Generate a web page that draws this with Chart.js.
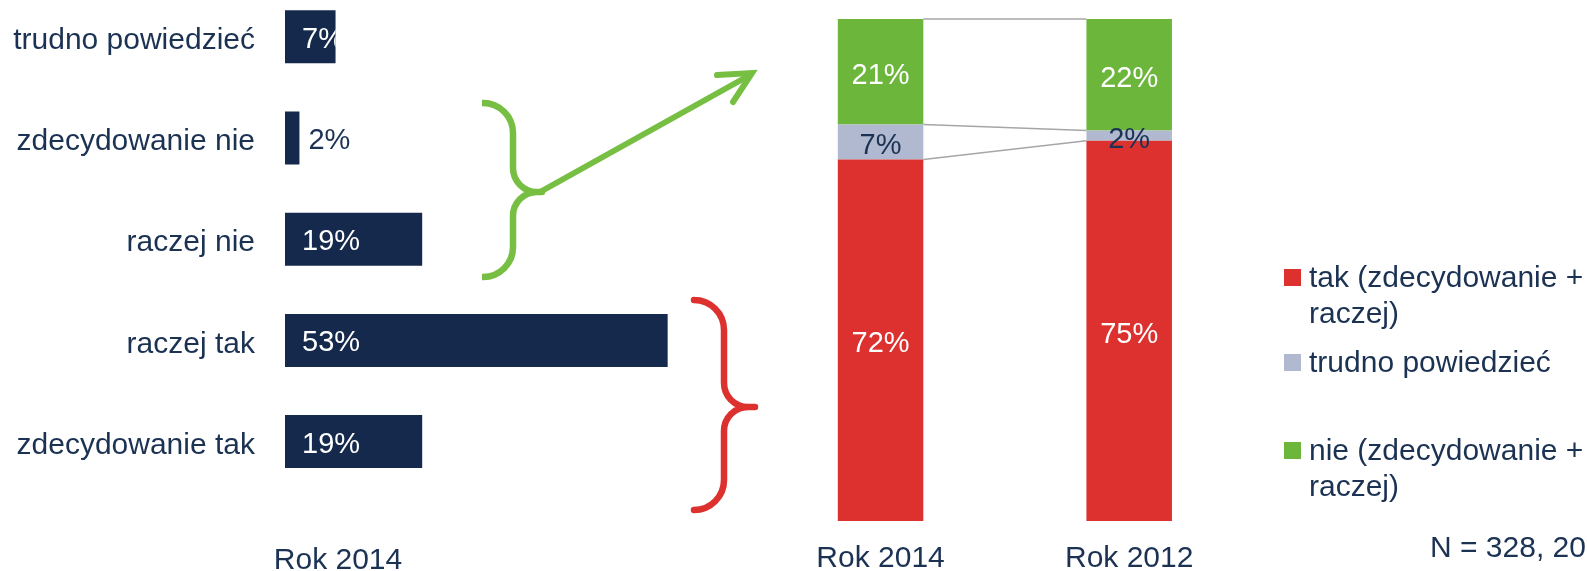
<!DOCTYPE html>
<html><head><meta charset="utf-8">
<script src="https://cdn.jsdelivr.net/npm/chart.js@4.4.1/dist/chart.umd.min.js"></script>
<style>
html,body{margin:0;padding:0;background:#fff;overflow:hidden;width:1587px;height:571px;position:relative;}
#wrapL{position:absolute;left:0;top:-20px;width:780px;height:591px;}
#wrapR{position:absolute;left:600px;top:0;width:987px;height:571px;}
canvas{display:block;}
</style></head><body>
<div id="wrapL"><canvas id="cL" width="780" height="591"></canvas></div>
<div id="wrapR"><canvas id="cR" width="987" height="571"></canvas></div>
<script>
// ---- data ----
const answerCategories = ['trudno powiedzieć', 'zdecydowanie nie', 'raczej nie', 'raczej tak', 'zdecydowanie tak'];
const answers2014 = [7, 2, 19, 53, 19];
const leftTitle = 'Rok 2014';
const years = ['Rok 2014', 'Rok 2012'];
const seriesNames = [['tak (zdecydowanie +', 'raczej)'], ['trudno powiedzieć'], ['nie (zdecydowanie +', 'raczej)']];
const tak = [72, 75];
const trudno = [7, 2];
const nie = [21, 22];
const sampleNote = 'N = 328, 20';

// ---- style ----
const FONT = "'Liberation Sans', Arial, sans-serif";
const NAVY = '#14294b', TEXT = '#1b3253', RED = '#dc312e', GRAY = '#b0b9cf', GREEN = '#6cb63c', GREEN_LINE = '#77bf43';
Chart.defaults.font.family = FONT;
Chart.defaults.color = TEXT;
Chart.defaults.animation = false;

// ---- left chart ----
const leftPlugin = {
  id: 'leftDeco',
  afterDatasetsDraw(chart) {
    const ctx = chart.ctx;
    const meta = chart.getDatasetMeta(0);
    ctx.save();
    ctx.font = '29px ' + FONT;
    ctx.textBaseline = 'middle';
    ctx.textAlign = 'left';
    meta.data.forEach((bar, i) => {
      const txt = answers2014[i] + '%';
      const left = bar.base, right = bar.x, h = bar.height, top = bar.y - h / 2;
      if (right - left < 30) {
        ctx.fillStyle = TEXT;
        ctx.fillText(txt, right + 9, bar.y + 3);
      } else {
        ctx.save();
        ctx.beginPath(); ctx.rect(left, top, right - left, h); ctx.clip();
        ctx.fillStyle = '#fff';
        ctx.fillText(txt, left + 17, bar.y + 3);
        ctx.restore();
      }
    });
    // page coordinates from here (canvas is shifted up by 20px)
    ctx.translate(0, 20);
    ctx.fillStyle = TEXT;
    ctx.font = '30px ' + FONT;
    ctx.textAlign = 'center';
    ctx.textBaseline = 'alphabetic';
    ctx.fillText(leftTitle, 338, 569);

    function brace(color, x0, xv, xp, y0, ym, y1, r, r2) {
      ctx.beginPath();
      ctx.strokeStyle = color;
      ctx.lineWidth = 6.5;
      ctx.lineCap = 'butt';
      ctx.lineJoin = 'round';
      ctx.moveTo(x0, y0);
      ctx.arcTo(xv, y0, xv, y0 + r, r);
      ctx.arcTo(xv, ym, xp, ym, r2);
      ctx.lineTo(xp, ym);
      ctx.arcTo(xv, ym, xv, y1, r2);
      ctx.arcTo(xv, y1, x0, y1, r);
      ctx.lineTo(x0, y1);
      ctx.stroke();
    }
    brace(GREEN_LINE, 482, 513, 542, 103, 192, 277, 30, 24);
    brace(RED, 695, 724, 755, 300, 407, 510, 30, 24);

    // arrow
    ctx.beginPath();
    ctx.strokeStyle = GREEN_LINE;
    ctx.lineWidth = 6;
    ctx.lineCap = 'round';
    ctx.moveTo(540, 192);
    ctx.lineTo(750, 75);
    ctx.stroke();
    ctx.beginPath();
    ctx.lineJoin = 'miter';
    ctx.moveTo(717, 75);
    ctx.lineTo(752, 73);
    ctx.lineTo(733, 102);
    ctx.stroke();
    ctx.restore();
  }
};

new Chart(document.getElementById('cL'), {
  type: 'bar',
  data: {
    labels: answerCategories,
    datasets: [{ data: answers2014, backgroundColor: NAVY, barPercentage: 0.524, categoryPercentage: 1 }]
  },
  options: {
    responsive: false,
    indexAxis: 'y',
    layout: { padding: { left: 0, right: 61.8, top: 6.2, bottom: 78.8 } },
    plugins: { legend: { display: false }, tooltip: { enabled: false } },
    scales: {
      x: { display: false, min: 0, max: 60 },
      y: {
        grid: { display: false, drawTicks: false },
        border: { display: false },
        ticks: { font: { size: 30 }, color: TEXT, padding: 30, labelOffset: 4 },
        afterFit(s) { s.width = 285; s.paddingTop = 0; s.paddingBottom = 0; }
      }
    }
  },
  plugins: [leftPlugin]
});

// ---- right chart ----
const totals = tak.map((v, i) => v + trudno[i] + nie[i]);
const share = arr => arr.map((v, i) => v / totals[i] * 100);
const rawSeries = [tak, trudno, nie];
const labelColors = ['#fff', TEXT, '#fff'];
const segColors = [RED, GRAY, GREEN];

const rightPlugin = {
  id: 'rightDeco',
  beforeDatasetsDraw(chart) {
    const ctx = chart.ctx;
    ctx.save();
    ctx.strokeStyle = '#a6a6a6';
    ctx.lineWidth = 1.5;
    chart.data.datasets.forEach((ds, k) => {
      const m = chart.getDatasetMeta(k).data;
      const a = m[0], b = m[1];
      ctx.beginPath();
      ctx.moveTo(a.x + a.width / 2, a.y);
      ctx.lineTo(b.x - b.width / 2, b.y);
      ctx.stroke();
    });
    ctx.restore();
  },
  afterDatasetsDraw(chart) {
    const ctx = chart.ctx;
    ctx.save();
    ctx.font = '29px ' + FONT;
    ctx.textAlign = 'center';
    ctx.textBaseline = 'middle';
    chart.data.datasets.forEach((ds, k) => {
      chart.getDatasetMeta(k).data.forEach((el, i) => {
        const c = el.getCenterPoint();
        ctx.fillStyle = labelColors[k];
        ctx.fillText(rawSeries[k][i] + '%', c.x, c.y + 4);
      });
    });
    // legend (page coords)
    ctx.translate(-600, 0);
    const firstBaselines = [287, 372, 460];
    ctx.font = '30px ' + FONT;
    ctx.textAlign = 'left';
    ctx.textBaseline = 'alphabetic';
    seriesNames.forEach((lines, k) => {
      const bl = firstBaselines[k];
      ctx.fillStyle = segColors[k];
      ctx.fillRect(1284, bl - 18, 17, 17);
      ctx.fillStyle = TEXT;
      lines.forEach((t, j) => ctx.fillText(t, 1309, bl + j * 36));
    });
    ctx.fillText(sampleNote, 1430, 557);
    ctx.restore();
  }
};

new Chart(document.getElementById('cR'), {
  type: 'bar',
  data: {
    labels: years,
    datasets: seriesNames.map((n, k) => ({
      label: n.join(' '),
      data: share(rawSeries[k]),
      backgroundColor: segColors[k],
      barPercentage: 0.344,
      categoryPercentage: 1
    }))
  },
  options: {
    responsive: false,
    layout: { padding: { left: 156.25, right: 333.5, top: 19, bottom: 0 } },
    plugins: { legend: { display: false }, tooltip: { enabled: false } },
    scales: {
      x: {
        stacked: true,
        grid: { display: false, drawTicks: false },
        border: { display: false },
        ticks: { font: { size: 30 }, color: TEXT, padding: 20 },
        afterFit(s) { s.height = 50; s.paddingLeft = 0; s.paddingRight = 0; }
      },
      y: { stacked: true, display: false, min: 0, max: 100 }
    }
  },
  plugins: [rightPlugin]
});
</script>
</body></html>
